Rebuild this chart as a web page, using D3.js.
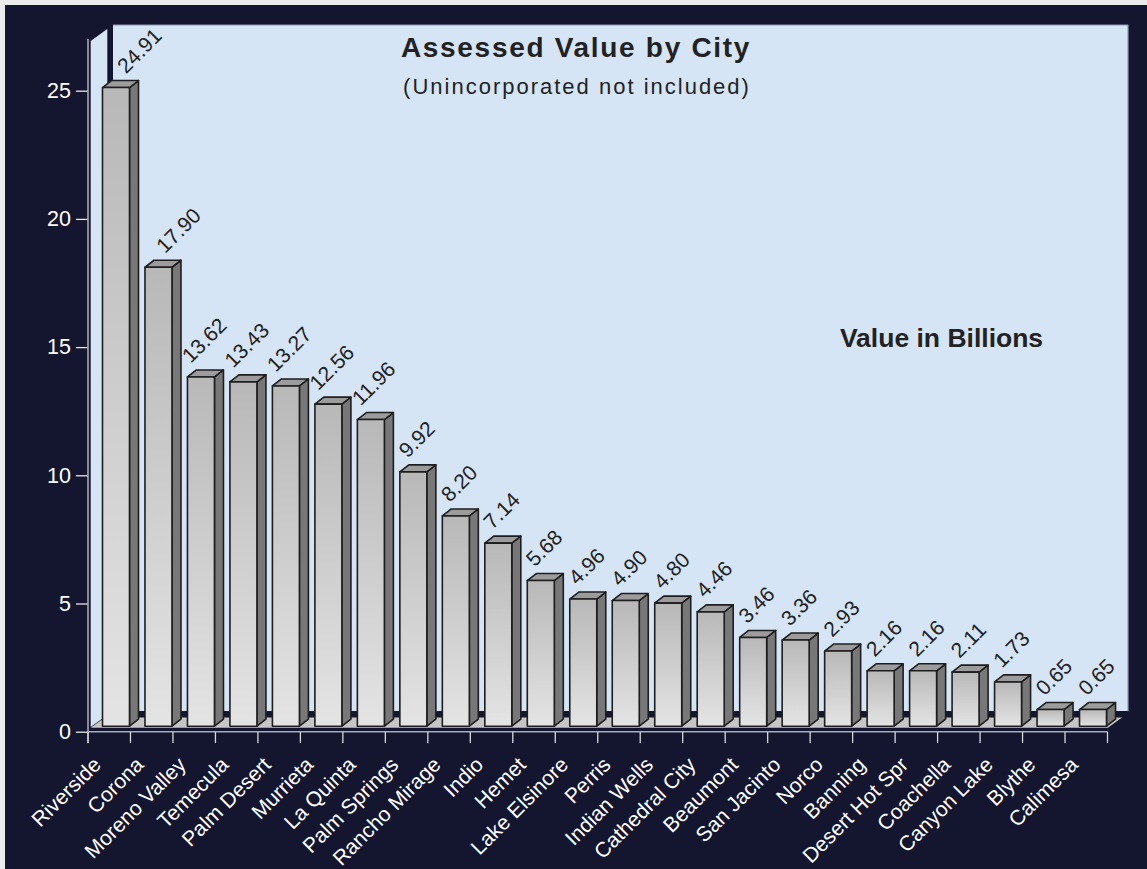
<!DOCTYPE html>
<html><head><meta charset="utf-8">
<script src="https://cdn.jsdelivr.net/npm/d3@7"></script>
<style>body{margin:0;background:#ebebeb}svg{display:block}</style>
</head><body><svg id="c" width="1147" height="869"></svg>
<script>
const cities = ["Riverside","Corona","Moreno Valley","Temecula","Palm Desert","Murrieta","La Quinta","Palm Springs","Rancho Mirage","Indio","Hemet","Lake Elsinore","Perris","Indian Wells","Cathedral City","Beaumont","San Jacinto","Norco","Banning","Desert Hot Spr","Coachella","Canyon Lake","Blythe","Calimesa"];
const values = [24.91,17.90,13.62,13.43,13.27,12.56,11.96,9.92,8.20,7.14,5.68,4.96,4.90,4.80,4.46,3.46,3.36,2.93,2.16,2.16,2.11,1.73,0.65,0.65];
const yTickValues = [0,5,10,15,20,25];
const titleText = "Assessed Value by City";
const subtitleText = "(Unincorporated not included)";
const unitText = "Value in Billions";

const W = 1147, H = 869;
const FONT = "'Liberation Sans', Arial, Helvetica, sans-serif";
const svg = d3.select("#c");

const x = d3.scaleBand().domain(cities).range([88, 1107.5]).padding(0);
const y = d3.scaleLinear().domain([0, 25]).range([731.7, 90.7]);

const BAR_OFF_X = 14.5, BAR_OFF_Y = -5.5, BAR_W = 27, DEP_X = 9, DEP_Y = -7;

// backgrounds
svg.append("rect").attr("width", W).attr("height", H).attr("fill", "#ebebeb");
svg.append("rect").attr("x", 5).attr("y", 5).attr("width", W - 5).attr("height", H - 5).attr("fill", "#14152f");

// back wall
const wx0 = 113, wx1 = 1128, wy0 = 25, wy1 = 711;
svg.append("rect").attr("x", wx0).attr("y", wy0).attr("width", wx1 - wx0).attr("height", wy1 - wy0).attr("fill", "#d5e5f6");
svg.append("path").attr("d", `M${wx0},${wy0}H${wx1}V${wy1}`).attr("fill", "none").attr("stroke", "#8e9ab4").attr("stroke-width", 1.2);

// left wall
svg.append("polygon").attr("points", "90.7,41 107.3,29 107.3,715 90.7,727").attr("fill", "#d5e5f6");

// floor
svg.append("polygon").attr("points", "90.7,727.8 1108,727.8 1122,717.5 104.7,717.5").attr("fill", "#c6c6c6");

// axes
const yAxis = d3.axisLeft(y).tickValues(yTickValues).tickSize(12).tickPadding(5);
const gy = svg.append("g").attr("transform", "translate(88,0)").call(yAxis);
gy.select(".domain").remove();
gy.selectAll(".tick line").attr("stroke", "#e8e8ee").attr("stroke-width", 1.3);
gy.selectAll(".tick text").attr("fill", "#ffffff").style("font-family", FONT).style("font-size", "21.5px");

svg.append("line").attr("x1", 88).attr("x2", 88).attr("y1", 39).attr("y2", 743).attr("stroke", "#a9a9b9").attr("stroke-width", 1.6);
svg.append("line").attr("x1", 88).attr("x2", x.range()[1]).attr("y1", y(0)).attr("y2", y(0)).attr("stroke", "#a9a9b9").attr("stroke-width", 1.6);

const boundaries = cities.map(c => x(c)).concat([x.range()[1]]);
svg.append("g").selectAll("line").data(boundaries).join("line")
  .attr("x1", d => d).attr("x2", d => d).attr("y1", y(0)).attr("y2", 743)
  .attr("stroke", "#d8d8e0").attr("stroke-width", 1.3);

svg.append("g").selectAll("text").data(cities).join("text")
  .attr("transform", d => `translate(${x(d) + x.bandwidth() / 2 - 7},766) rotate(-45)`)
  .attr("text-anchor", "end")
  .attr("fill", "#ffffff").style("font-family", FONT).style("font-size", "21px")
  .text(d => d);

// bars
const defs = svg.append("defs");
const grad = defs.append("linearGradient").attr("id", "barFront").attr("x1", 0).attr("y1", 0).attr("x2", 0).attr("y2", 1);
grad.append("stop").attr("offset", 0).attr("stop-color", "#b8b8b8");
grad.append("stop").attr("offset", 1).attr("stop-color", "#e4e4e4");

const barData = cities.map((c, i) => {
  const fl = x(c) + BAR_OFF_X;
  const ft = y(values[i]) + BAR_OFF_Y;
  const fb = y(0) + BAR_OFF_Y;
  return { c, v: values[i], fl, ft, fb };
});

const gb = svg.append("g").attr("stroke", "#1e1e1e").attr("stroke-width", 1.6).attr("stroke-linejoin", "round");
barData.forEach(b => {
  const g = gb.append("g");
  g.append("polygon").attr("points", [[b.fl + BAR_W, b.ft], [b.fl + BAR_W + DEP_X, b.ft + DEP_Y], [b.fl + BAR_W + DEP_X, b.fb + DEP_Y], [b.fl + BAR_W, b.fb]].join(" ")).attr("fill", "#787878");
  g.append("polygon").attr("points", [[b.fl, b.ft], [b.fl + DEP_X, b.ft + DEP_Y], [b.fl + BAR_W + DEP_X, b.ft + DEP_Y], [b.fl + BAR_W, b.ft]].join(" ")).attr("fill", "#9c9c9c");
  g.append("rect").attr("x", b.fl).attr("y", b.ft).attr("width", BAR_W).attr("height", b.fb - b.ft).attr("fill", "url(#barFront)");
});

// value labels: rotated -45, nudged right when next to a much taller bar or the wall
const LBL = 21, ASC = 0.707 * 15;
const gl = svg.append("g");
barData.forEach((b, i) => {
  const txt = b.v.toFixed(2);
  const w = (txt.length - 1) * 0.556 * LBL + 0.278 * LBL;
  let ox = b.fl + 22 - 0.354 * w, oy = b.ft - 13;
  const labelTop = oy - 0.707 * (w + 15);
  if (i === 0) {
    ox = Math.max(ox, 107.3 + 8 + ASC);
  } else {
    const p = barData[i - 1];
    if (p.ft < labelTop - 100) ox = Math.max(ox, p.fl + BAR_W + DEP_X + 16 + ASC);
  }
  gl.append("text").attr("transform", `translate(${ox},${oy}) rotate(-45)`)
    .attr("fill", "#222").style("font-family", FONT).style("font-size", LBL + "px")
    .text(txt);
});

// titles
svg.append("text").attr("x", 576).attr("y", 56.7).attr("text-anchor", "middle")
  .attr("fill", "#222").style("font-family", FONT).style("font-weight", "bold").style("font-size", "28px").style("letter-spacing", "1.7px")
  .text(titleText);
svg.append("text").attr("x", 577).attr("y", 94).attr("text-anchor", "middle")
  .attr("fill", "#222").style("font-family", FONT).style("font-size", "22px").style("letter-spacing", "2px")
  .text(subtitleText);
svg.append("text").attr("x", 941.5).attr("y", 346.7).attr("text-anchor", "middle")
  .attr("fill", "#222").style("font-family", FONT).style("font-weight", "bold").style("font-size", "26.5px")
  .text(unitText);
</script></body></html>
